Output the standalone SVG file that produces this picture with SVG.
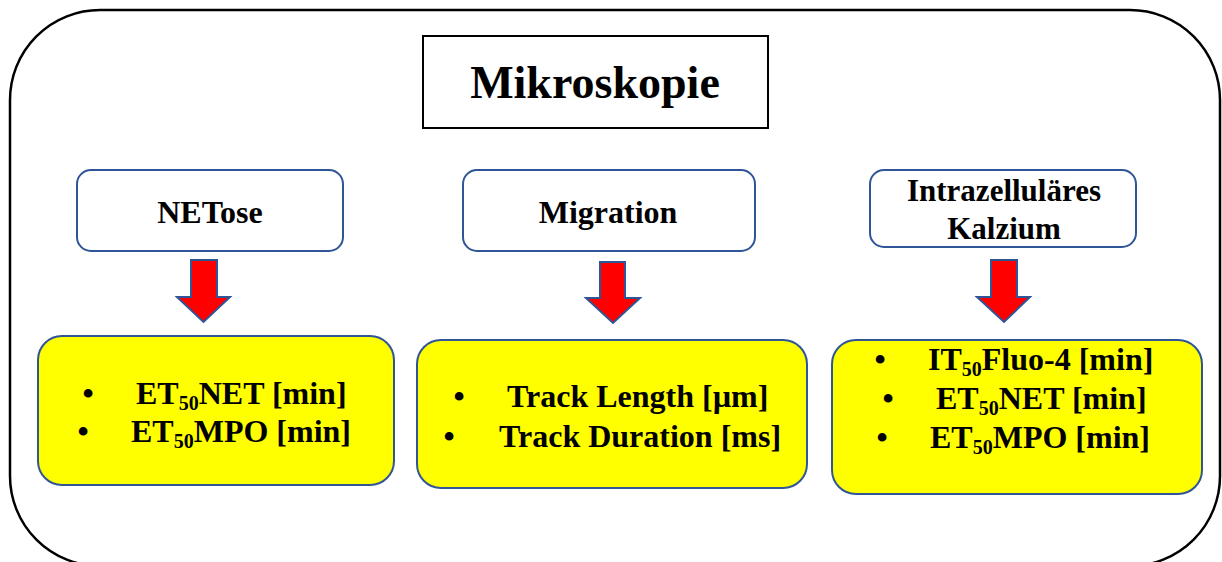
<svg xmlns="http://www.w3.org/2000/svg" width="1222" height="562" viewBox="0 0 1222 562">
<style>
.t{font-family:"Liberation Serif","Times New Roman",serif;font-weight:bold;fill:#000}
.hdr{fill:#fff;stroke:#2F5597;stroke-width:2}
.res{fill:#FFFF00;stroke:#2F5597;stroke-width:2}
.arr{fill:#FF0000;stroke:#2F5597;stroke-width:2;stroke-linejoin:miter}
.lst{font-size:32px}
.sub{font-size:20px}
</style>
<rect width="1222" height="562" fill="#fff"/>
<rect id="frame" x="10" y="10" width="1210" height="556" rx="90" ry="90" fill="none" stroke="#000" stroke-width="2.5"/>
<g id="title">
<rect x="423" y="36" width="345" height="92" fill="#fff" stroke="#000" stroke-width="2"/>
<text class="t" x="595" y="98" font-size="46" text-anchor="middle">Mikroskopie</text>
</g>
<g id="netose">
<rect class="hdr" x="77" y="170" width="266" height="81" rx="14"/>
<text class="t" x="210" y="223" font-size="32" text-anchor="middle">NETose</text>
</g>
<g id="migration">
<rect class="hdr" x="463" y="170" width="292" height="81" rx="14"/>
<text class="t" x="608" y="223" font-size="32" text-anchor="middle">Migration</text>
</g>
<g id="kalzium">
<rect class="hdr" x="870" y="170" width="266" height="77" rx="14"/>
<text class="t" x="1004" y="201" font-size="31" text-anchor="middle">Intrazelluläres</text>
<text class="t" x="1004" y="239" font-size="31" text-anchor="middle">Kalzium</text>
</g>
<g id="connectors">
<polygon class="arr" points="191,260 217,260 217,297 230,297 203.5,322 177,297 191,297"/>
<polygon class="arr" points="600,262 625,262 625,298 640,298 613,323 586,298 600,298"/>
<polygon class="arr" points="991,260 1017,260 1017,297 1030,297 1004,322 977,297 991,297"/>
</g>
<g id="netose-results">
<rect class="res" x="38" y="336" width="356" height="149" rx="24"/>
<text class="t lst" x="88" y="404" text-anchor="middle">•</text>
<text class="t lst" x="136" y="404">ET<tspan class="sub" dy="6">50</tspan><tspan dy="-6">NET [min]</tspan></text>
<text class="t lst" x="83" y="442" text-anchor="middle">•</text>
<text class="t lst" x="131" y="442">ET<tspan class="sub" dy="6">50</tspan><tspan dy="-6">MPO [min]</tspan></text>
</g>
<g id="migration-results">
<rect class="res" x="417" y="340" width="390" height="148" rx="24"/>
<text class="t lst" x="459" y="407" text-anchor="middle">•</text>
<text class="t lst" x="507" y="407">Track Length [µm]</text>
<text class="t lst" x="449" y="447" text-anchor="middle">•</text>
<text class="t lst" x="499" y="447">Track Duration [ms]</text>
</g>
<g id="kalzium-results">
<rect class="res" x="832" y="340" width="370" height="154" rx="24"/>
<text class="t lst" x="880" y="370" text-anchor="middle">•</text>
<text class="t lst" x="928" y="370">IT<tspan class="sub" dy="6">50</tspan><tspan dy="-6">Fluo-4 [min]</tspan></text>
<text class="t lst" x="888" y="409" text-anchor="middle">•</text>
<text class="t lst" x="936" y="409">ET<tspan class="sub" dy="6">50</tspan><tspan dy="-6">NET [min]</tspan></text>
<text class="t lst" x="882" y="448" text-anchor="middle">•</text>
<text class="t lst" x="930" y="448">ET<tspan class="sub" dy="6">50</tspan><tspan dy="-6">MPO [min]</tspan></text>
</g>
</svg>
